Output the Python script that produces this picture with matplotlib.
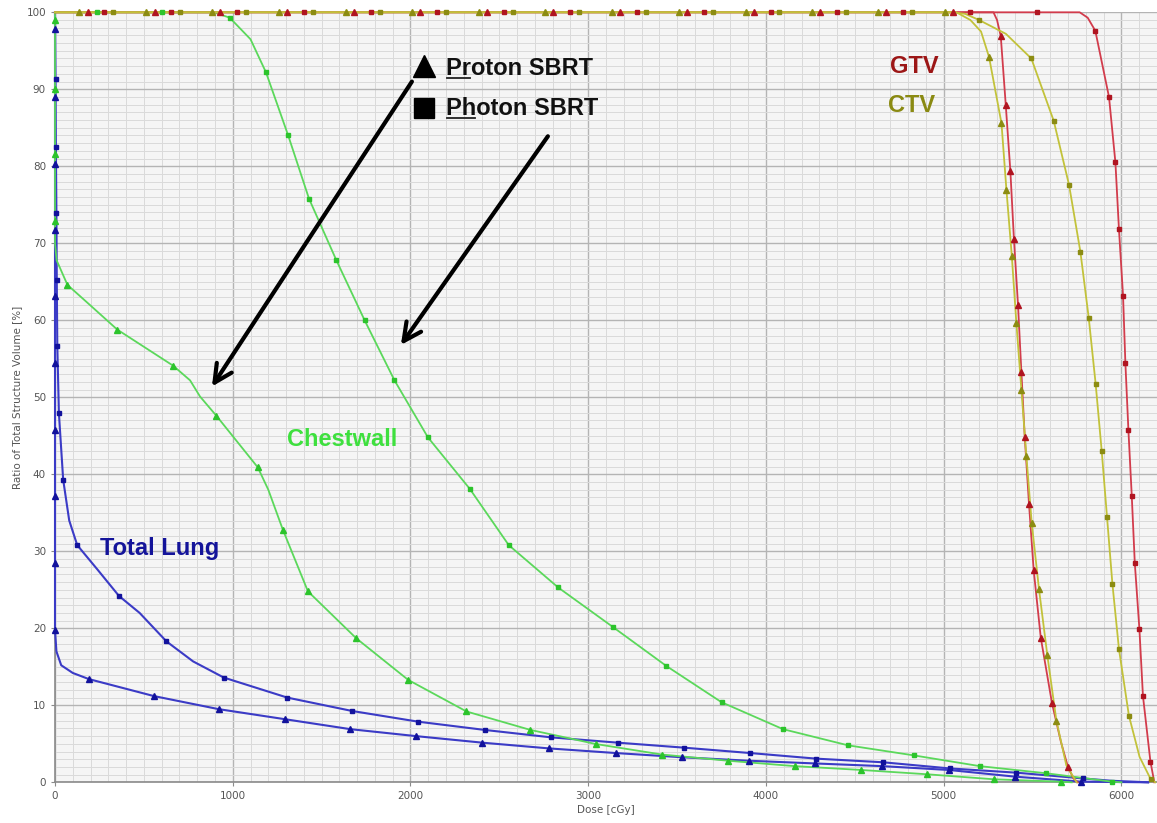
import numpy as np
import matplotlib.pyplot as plt
from matplotlib.ticker import MultipleLocator

# Dose-volume histogram values.
# *_mark flags the points that carry a marker (1) versus pure curve-shape points (0).

# Total Lung, proton SBRT (triangles)
lung_pro_dose = [0, 0, 0, 0, 0, 0, 0, 0, 0, 0, 0, 8, 35, 100, 191, 556, 921, 1292, 1662,
                 2030, 2403, 2780, 3155, 3530, 3903, 4275, 4653, 5030, 5403, 5775, 6150]
lung_pro_vol = [100, 97.8, 89.0, 80.3, 71.7, 63.2, 54.5, 45.8, 37.2, 28.5, 19.8, 17.0, 15.2, 14.2,
                13.4, 11.2, 9.5, 8.2, 6.9, 6.0, 5.15, 4.4, 3.8, 3.25, 2.8, 2.45, 2.1, 1.6, 0.73, 0.08, 0]
lung_pro_mark = [0, 1, 1, 1, 1, 1, 1, 1, 1, 1, 1, 0, 0, 0, 1, 1, 1, 1, 1,
                 1, 1, 1, 1, 1, 1, 1, 1, 1, 1, 1, 0]

# Total Lung, photon SBRT (squares)
lung_pho_dose = [0, 3, 5, 8, 10, 13, 22, 46, 80, 125, 240, 360, 476, 627, 777, 950, 1307, 1672,
                 2044, 2418, 2790, 3165, 3538, 3911, 4284, 4659, 5034, 5409, 5784, 5943, 6150]
lung_pho_vol = [100, 91.3, 82.5, 73.9, 65.2, 56.6, 47.9, 39.3, 34.0, 30.8, 27.6, 24.2, 22.0, 18.3,
                15.7, 13.6, 11.0, 9.26, 7.87, 6.8, 5.84, 5.15, 4.5, 3.8, 3.07, 2.6, 1.8, 1.25, 0.5, 0.2, 0]
lung_pho_mark = [0, 1, 1, 1, 1, 1, 1, 1, 0, 1, 0, 1, 0, 1, 0, 1, 1, 1,
                 1, 1, 1, 1, 1, 1, 1, 1, 1, 1, 1, 0, 0]

# Chestwall, proton SBRT
chest_pro_dose = [0, 0, 0, 0, 0, 0, 9, 70, 196, 350, 665, 760, 816, 908, 1141, 1200, 1282, 1423,
                  1695, 1987, 2315, 2675, 3043, 3416, 3787, 4162, 4537, 4908, 5283, 5658, 5720]
chest_pro_vol = [100, 99.0, 90.1, 81.6, 72.9, 70.0, 67.8, 64.6, 62.0, 58.8, 54.1, 52.2, 50.1, 47.6,
                 40.9, 38.0, 32.8, 24.8, 18.7, 13.3, 9.2, 6.8, 4.97, 3.6, 2.8, 2.1, 1.6, 1.04, 0.39, 0.08, 0]
chest_pro_mark = [0, 1, 1, 1, 1, 0, 0, 1, 0, 1, 1, 0, 0, 1, 1, 0, 1, 1,
                  1, 1, 1, 1, 1, 1, 1, 1, 1, 1, 1, 1, 0]

# Chestwall, photon SBRT
chest_pho_dose = [0, 236, 602, 893, 983, 1100, 1187, 1312, 1429, 1583, 1742, 1910, 2098, 2334,
                  2553, 2831, 3137, 3440, 3750, 4096, 4462, 4831, 5203, 5578, 5947, 6000]
chest_pho_vol = [100, 100, 100, 100, 99.3, 96.5, 92.2, 84.0, 75.8, 67.8, 60.0, 52.2, 44.8, 38.1,
                 30.8, 25.3, 20.2, 15.1, 10.4, 6.9, 4.8, 3.5, 2.1, 1.17, 0.08, 0]
chest_pho_mark = [0, 1, 1, 0, 1, 0, 1, 1, 1, 1, 1, 1, 1, 1,
                  1, 1, 1, 1, 1, 1, 1, 1, 1, 1, 1, 0]

# GTV, proton SBRT
gtv_pro_dose = [0, 183, 560, 931, 1308, 1685, 2056, 2433, 2804, 3181, 3558, 3934, 4306, 4677, 5054,
                5280, 5300, 5321, 5349, 5375, 5395, 5418, 5437, 5456, 5480, 5506, 5546, 5609,
                5660, 5699, 5730, 5754]
gtv_pro_vol = [100, 100, 100, 100, 100, 100, 100, 100, 100, 100, 100, 100, 100, 100, 100,
               100, 99.0, 96.9, 88.0, 79.4, 70.6, 62.0, 53.3, 44.8, 36.1, 27.6, 18.8, 10.3,
               5.2, 2.0, 0.5, 0]
gtv_pro_mark = [0, 1, 1, 1, 1, 1, 1, 1, 1, 1, 1, 1, 1, 1, 1,
                0, 0, 1, 1, 1, 1, 1, 1, 1, 1, 1, 1, 1,
                0, 1, 0, 0]

# CTV, proton SBRT
ctv_pro_dose = [0, 135, 512, 883, 1260, 1637, 2008, 2385, 2756, 3133, 3510, 3886, 4258, 4629, 5006,
                5071, 5150, 5210, 5255, 5325, 5353, 5383, 5409, 5437, 5465, 5495, 5536, 5583, 5634,
                5690, 5748]
ctv_pro_vol = [100, 100, 100, 100, 100, 100, 100, 100, 100, 100, 100, 100, 100, 100, 100,
               100, 99.0, 97.5, 94.2, 85.6, 76.9, 68.4, 59.6, 51.0, 42.4, 33.7, 25.1, 16.5, 8.0,
               2.2, 0]
ctv_pro_mark = [0, 1, 1, 1, 1, 1, 1, 1, 1, 1, 1, 1, 1, 1, 1,
                0, 0, 0, 1, 1, 1, 1, 1, 1, 1, 1, 1, 1, 1,
                0, 0]

# GTV, photon SBRT
gtv_pho_dose = [0, 276, 653, 1024, 1401, 1778, 2149, 2526, 2897, 3274, 3651, 4027, 4399, 4770, 5147,
                5525, 5765, 5810, 5853, 5930, 5966, 5986, 6009, 6022, 6039, 6058, 6075, 6101, 6121,
                6163, 6185]
gtv_pho_vol = [100, 100, 100, 100, 100, 100, 100, 100, 100, 100, 100, 100, 100, 100, 100,
               100, 100, 99.3, 97.6, 89.0, 80.5, 71.8, 63.2, 54.5, 45.8, 37.2, 28.5, 19.9, 11.2,
               2.7, 0]
gtv_pho_mark = [0, 1, 1, 1, 1, 1, 1, 1, 1, 1, 1, 1, 1, 1, 1,
                1, 0, 0, 1, 1, 1, 1, 1, 1, 1, 1, 1, 1, 1,
                1, 0]

# CTV, photon SBRT
ctv_pho_dose = [0, 325, 702, 1073, 1450, 1827, 2198, 2575, 2946, 3323, 3700, 4076, 4448, 4819,
                5050, 5120, 5199, 5350, 5493, 5619, 5705, 5769, 5816, 5855, 5889, 5919, 5949, 5986,
                6042, 6102, 6164, 6190]
ctv_pho_vol = [100, 100, 100, 100, 100, 100, 100, 100, 100, 100, 100, 100, 100, 100,
               100, 99.8, 99.0, 97.2, 94.0, 85.9, 77.6, 68.9, 60.3, 51.7, 43.0, 34.4, 25.8, 17.3,
               8.65, 3.3, 0.43, 0]
ctv_pho_mark = [0, 1, 1, 1, 1, 1, 1, 1, 1, 1, 1, 1, 1, 1,
                0, 0, 1, 0, 1, 1, 1, 1, 1, 1, 1, 1, 1, 1,
                1, 0, 1, 0]

x_ticks = [0, 1000, 2000, 3000, 4000, 5000, 6000]
y_ticks = [0, 10, 20, 30, 40, 50, 60, 70, 80, 90, 100]

BLUE = ("#3b3bc6", "#12129c")
GREEN = ("#5bd85b", "#2cc42c")
RED = ("#d23c4c", "#b01420")
OLIVE = ("#c2c23a", "#8c8c12")

# (dose, vol, mark flags, colours, marker, marker size, line width)
series = [
    (lung_pro_dose, lung_pro_vol, lung_pro_mark, BLUE, "^", 4.6, 1.5),
    (lung_pho_dose, lung_pho_vol, lung_pho_mark, BLUE, "s", 3.4, 1.5),
    (chest_pro_dose, chest_pro_vol, chest_pro_mark, GREEN, "^", 4.6, 1.3),
    (chest_pho_dose, chest_pho_vol, chest_pho_mark, GREEN, "s", 3.2, 1.3),
    (gtv_pro_dose, gtv_pro_vol, gtv_pro_mark, RED, "^", 4.6, 1.3),
    (gtv_pho_dose, gtv_pho_vol, gtv_pho_mark, RED, "s", 3.2, 1.3),
    (ctv_pro_dose, ctv_pro_vol, ctv_pro_mark, OLIVE, "^", 4.6, 1.3),
    (ctv_pho_dose, ctv_pho_vol, ctv_pho_mark, OLIVE, "s", 3.2, 1.3),
]

fig = plt.figure(figsize=(11.57, 8.23), dpi=100)
ax = fig.add_axes([55 / 1157, 1 - 782.3 / 823, 1102 / 1157, 770 / 823])
ax.set_facecolor("#f5f5f5")

for dose, vol, mark, (lc, mc), mk, ms, lw in series:
    dose = np.array(dose, dtype=float)
    vol = np.array(vol, dtype=float)
    sel = np.array(mark, dtype=bool)
    ax.plot(dose, vol, color=lc, lw=lw, zorder=3, clip_on=False)
    ax.plot(dose[sel], vol[sel], ls="none", marker=mk, ms=ms, color=mc,
            markeredgecolor=mc, zorder=4, clip_on=False)

ax.set_xlim(0, 6200)
ax.set_ylim(0, 100)
ax.set_xticks(x_ticks)
ax.set_yticks(y_ticks)
ax.xaxis.set_minor_locator(MultipleLocator(100))
ax.yaxis.set_minor_locator(MultipleLocator(1))
ax.grid(which="major", color="#b4b4b4", lw=1.0, zorder=1)
ax.grid(which="minor", color="#dadada", lw=0.7, zorder=0)
ax.set_axisbelow(True)

for side in ["top", "right"]:
    ax.spines[side].set_visible(False)
for side in ["left", "bottom"]:
    ax.spines[side].set_color("#8a8a8a")
    ax.spines[side].set_linewidth(1.2)
ax.tick_params(which="major", length=3, color="#8a8a8a", labelsize=7.5, labelcolor="#555555")
ax.tick_params(which="minor", length=0)

ax.set_xlabel("Dose [cGy]", fontsize=7.5, color="#555555", labelpad=3)
ax.set_ylabel("Ratio of Total Structure Volume [%]", fontsize=7.5, color="#555555", labelpad=3)

bold = dict(family=["Liberation Sans", "DejaVu Sans"], fontweight="bold", fontsize=17)
ax.text(4837, 92.9, "GTV", color="#9c1616", ha="center", va="center", **bold)
ax.text(4820, 87.9, "CTV", color="#8a8a12", ha="center", va="center", **bold)
ax.text(1614, 44.5, "Chestwall", color="#3ee03e", ha="center", va="center", **bold)
ax.text(590, 30.3, "Total Lung", color="#14149a", ha="center", va="center", **bold)

# legend-like key drawn in the plot area
ax.plot([2075], [93.0], marker="^", ms=16, color="black", ls="none", zorder=6)
ax.plot([2075], [87.6], marker="s", ms=15, color="black", ls="none", zorder=6)

key_labels = [("Proton SBRT", 2, 91.85), ("Photon SBRT", 2, 86.7)]
fig.canvas.draw()
renderer = fig.canvas.get_renderer()
for label, n_under, ybase in key_labels:
    ax.text(2199, ybase, label, color="#111111", ha="left", va="baseline", zorder=6, **bold)
    probe = ax.text(2199, ybase, label[:n_under], ha="left", va="baseline", **bold)
    bb = probe.get_window_extent(renderer)
    probe.remove()
    _, yb = ax.transData.transform((2199, ybase))
    inv = ax.transData.inverted()
    (x0, y0), (x1, _) = inv.transform([(bb.x0 + 1, yb - 3), (bb.x1 - 1, yb - 3)])
    ax.plot([x0, x1], [y0, y0], color="#222222", lw=1.3, zorder=6)

# arrows pointing at the proton and photon curves
ax.annotate("", xy=(883, 51.4), xytext=(2008, 91.0),
            arrowprops=dict(arrowstyle="->", lw=3, color="black", mutation_scale=32,
                            shrinkA=0, shrinkB=0), zorder=6)
ax.annotate("", xy=(1946, 56.8), xytext=(2773, 83.9),
            arrowprops=dict(arrowstyle="->", lw=3, color="black", mutation_scale=32,
                            shrinkA=0, shrinkB=0), zorder=6)

fig.savefig("out.png", dpi=100, facecolor="white")
